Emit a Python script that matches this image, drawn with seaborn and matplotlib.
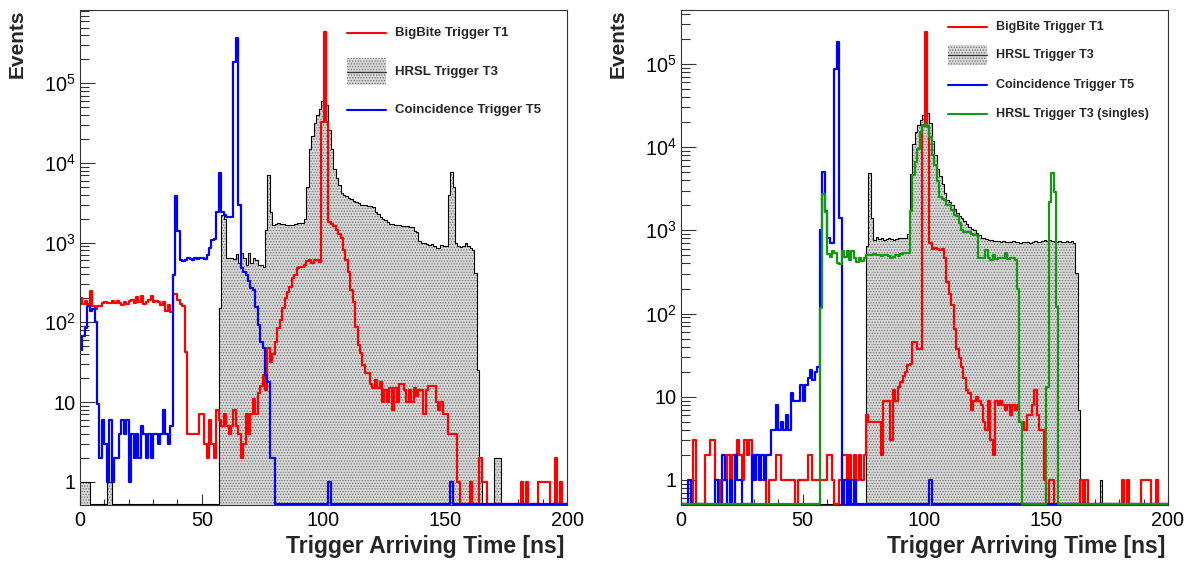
import numpy as np
import pandas as pd
import matplotlib
matplotlib.use("Agg")
import matplotlib.pyplot as plt
import seaborn as sns
from matplotlib.patches import Rectangle
from matplotlib.ticker import MultipleLocator, FixedLocator, FuncFormatter, NullFormatter

# ---------------- data (counts per 1 ns bin, 0..200 ns) ----------------
bin_edges = list(range(0, 201))

t1_left = ([200, 170, 185, 170, 250, 160, 145, 160, 160, 175, 178, 175, 175, 185, 175, 185, 175, 165, 180, 170,
            185, 190, 175, 205, 180, 215, 170, 180, 190, 215, 180, 185, 180, 165, 180, 140, 165, 133]
           + [225, 225, 190, 170, 160, 42, 4, 4, 4, 4, 4, 7, 7, 3, 2, 6, 3, 2, 8]
           + [6, 5, 7, 5, 4, 5, 8, 5, 4, 2, 3, 7, 4, 7, 11, 7, 13, 16, 22, 14, 47, 32, 40, 57, 84, 107, 150,
              200, 240, 280, 360, 390, 475, 500, 500, 520, 580, 600, 550, 600, 600, 575, 33000, 440000, 33000]
           + [1830, 1700, 1600, 1450, 1300, 1150, 800, 600, 430, 255, 180, 88, 52, 41, 29, 23, 23, 17, 15, 19,
              15, 18, 10, 14, 10, 15, 8, 15, 10, 17, 17, 14, 10, 14, 10, 15, 12, 14, 14, 7, 14, 16, 16, 16, 10,
              8, 10, 7, 7, 4, 4, 4, 4, 1]
           + [0, 0, 0, 0, 1, 0, 0, 0, 2, 1, 1] + [0] * 14 + [1, 0, 1] + [0] * 4 + [1, 1, 1, 1, 1]
           + [0, 0] + [2, 0, 1, 0, 0])

t3_left = ([1, 1, 1, 1] + [0] * 7 + [1, 1] + [0] * 44
           + [150, 2200, 2000, 650, 650, 640, 620, 720, 550, 740, 640, 530, 740, 550, 640, 600, 530, 520, 500,
              1450, 7100, 2400, 1650, 1700, 1750, 1700, 1700, 1650, 1650, 1650, 1650, 1700, 1750, 1750, 1750, 2000]
           + [5000, 15000, 22000, 32000, 40000, 48000, 60000, 62000, 53000, 26000, 15000, 8500, 6500, 5300,
              4200, 4000, 3800, 3600, 3500, 3300, 3200, 3100, 3000, 3000, 3000, 2900, 2900, 2800, 2450, 2300,
              2100, 2000, 1900, 1800, 1700, 1700, 1650, 1650, 1650, 1600, 1600, 1600, 1550, 1550, 1400, 1370,
              1050, 1000, 1000, 950, 940, 950, 900, 850, 850, 940, 920, 920, 4000, 7800, 5000, 1000, 920, 880,
              900, 1000, 900, 850, 800, 420, 25, 2]
           + [0] * 5 + [2, 2, 2] + [0] * 27)

t5_left = ([45, 68, 85, 160, 140, 148, 100, 9.5]
           + [2, 6, 3, 1, 6, 1, 2, 2, 4, 6, 4, 6, 1, 4, 2, 4, 2, 5, 4, 2, 4, 2, 4, 4, 3, 4, 8, 4, 3, 5]
           + [390, 3800, 1400, 600, 580, 600, 650, 620, 600, 650, 620, 640, 650, 630, 700, 850, 1070, 1100,
              2400, 7400, 2400, 2200, 2100, 2100, 2100, 186000, 365000, 3000, 475, 430, 390, 330, 270, 255,
              157, 92, 57, 47, 22, 18, 2, 2]
           + [0] * 22 + [1] + [0] * 49 + [1] + [0] * 47)

t1_right = ([0, 0, 0, 0, 0, 3, 0, 0, 0, 0, 2, 2, 3, 3, 1, 1, 0, 1, 1, 2, 1, 2, 2, 3, 2, 1, 3, 2, 3, 1,
             2, 2, 1, 1, 1, 0, 1, 1, 1, 2, 2, 1, 1, 1, 1, 1, 1, 0, 1, 1, 1, 1, 2, 2, 1, 1, 1]
            + [1, 1, 1, 2, 2, 1, 0, 0, 1, 2, 2, 1, 2, 1, 2, 1, 2, 1, 2]
            + [6, 5, 5, 5, 5, 5, 2, 9, 9, 9, 3, 12, 9, 13, 15, 18, 20, 24, 25, 46, 46, 37, 38,
               18000, 240000, 18000]
            + [700, 600, 620, 600, 580, 600, 460, 240, 170, 127, 66, 38, 29, 23, 17, 12, 11, 7, 9, 10, 9, 8,
               5, 4, 9, 3, 2, 9, 8, 9, 8, 7, 8, 6, 8, 7, 8, 5, 5, 4, 6, 6, 8, 12, 6, 4, 4, 1]
            + [0, 1, 1, 0] + [0] * 10 + [1, 0, 1] + [0] * 14 + [1, 0, 1] + [0] * 5 + [1, 1, 1, 1]
            + [0, 0] + [1] + [0] * 4)

t3_right = ([0] * 76
            + [640, 4900, 1420, 770, 830, 780, 800, 760, 790, 800, 780, 760, 790, 800, 810, 820, 820, 900,
               4700, 11000, 15000, 18500, 21000, 24500, 30000, 26000, 19500, 12000, 8000, 5500, 4500, 3600,
               2800, 2300, 2200, 2000, 1800, 1600, 1500, 1400, 1300, 1200, 1100, 1050, 1000, 930, 870, 820,
               800, 780, 770, 760, 750, 740, 750, 730, 740, 720, 730, 720, 740, 730, 720, 710, 720, 730, 720,
               710, 720, 740, 730, 720, 750, 760, 740, 770, 740, 730, 720, 740, 730, 720, 750, 730, 740, 700,
               310, 7, 1]
            + [0] * 7 + [1] + [0] * 27)

t5_right = ([0, 0, 0, 1, 0, 0, 0, 0, 0, 0, 0, 0, 0, 0, 1, 0, 0, 2, 1, 0, 1, 0, 2, 1, 1, 0, 0, 0, 0, 2,
             1, 2, 1, 2, 1, 2, 2, 4, 4, 8, 4, 5, 4, 6, 4, 11, 9, 9, 9, 14, 9, 14, 17, 21, 16, 20, 23]
            + [1000, 5000, 1700, 800, 700, 700, 87000, 183000, 1400]
            + [0, 1, 0, 1, 0, 1] + [0] * 30 + [1] + [0] * 97)

t3s_right = ([0] * 57
             + [116, 2700, 1670, 525, 480, 560, 540, 400, 390, 560, 480, 560, 440, 560, 460, 420, 470, 430,
                460, 500, 510, 500, 520, 510, 500, 490, 500, 510, 490, 470, 480, 500, 490, 520, 530, 530, 540,
                1700, 4600, 6700, 9600, 15000, 18500, 18600, 17700, 13400, 8100, 6100, 3900, 2500, 2400, 2300,
                2000, 2000, 1780, 1550, 1500, 1220, 1000, 960, 960, 960, 900, 890, 890, 460, 460, 470, 580,
                460, 440, 510, 450, 460, 470, 460, 530, 450, 460, 470, 440, 200, 5]
             + [0] * 10 + [13, 2200, 4900, 2900, 120] + [0] * 45)

for arr in (t1_left, t3_left, t5_left, t1_right, t3_right, t5_right, t3s_right):
    assert len(arr) == 200, len(arr)

labels_left = ["BigBite Trigger T1", "HRSL Trigger T3", "Coincidence Trigger T5"]
labels_right = ["BigBite Trigger T1", "HRSL Trigger T3", "Coincidence Trigger T5", "HRSL Trigger T3 (singles)"]
x_label = "Trigger Arriving Time [ns]"
y_label = "Events"
y_major_ticks = [1, 10, 100, 1000, 10000, 100000]
y_minor_ticks = [m * 10 ** e for e in range(-1, 6) for m in range(2, 10)]

# ---------------- style ----------------
sns.set_theme(style="ticks")
plt.rcParams["font.family"] = ["Liberation Sans", "DejaVu Sans"]
plt.rcParams["mathtext.fontset"] = "custom"
plt.rcParams["mathtext.rm"] = "Liberation Sans"
plt.rcParams["mathtext.it"] = "Liberation Sans"
plt.rcParams["hatch.linewidth"] = 0.6

RED, BLUE, GREEN = "#ff0000", "#0000ff", "#119911"
FILL_FC, FILL_EC, HATCH = "#d9d9d9", "#6e6e6e", "......"
LW = 1.6

edges = [float(e) for e in bin_edges]
centers = [(a + b) / 2 for a, b in zip(edges[:-1], edges[1:])]

fig = plt.figure(figsize=(11.89, 5.62), dpi=100)
ax_l = fig.add_axes([80 / 1189, 1 - 505 / 562, 487 / 1189, 495 / 562])
ax_r = fig.add_axes([681 / 1189, 1 - 505 / 562, 487 / 1189, 495 / 562])


def frame(vals, floor):
    v = np.asarray(vals, dtype=float)
    return pd.DataFrame({"t": centers, "n": np.where(v > 0, v, floor)})


def draw_hist(ax, vals, color, lw, floor):
    sns.histplot(data=frame(vals, floor), x="t", weights="n", bins=edges, element="step",
                 fill=False, color=color, linewidth=lw, ax=ax)


def draw_filled(ax, vals, floor):
    df = frame(vals, floor)
    sns.histplot(data=df, x="t", weights="n", bins=edges, element="step", fill=True,
                 facecolor=FILL_FC, edgecolor=FILL_EC, hatch=HATCH, linewidth=0, alpha=1, ax=ax)
    sns.histplot(data=df, x="t", weights="n", bins=edges, element="step", fill=False,
                 color="black", linewidth=0.8, ax=ax)


def fmt(v, pos):
    e = int(round(np.log10(v)))
    if e == 0:
        return "1"
    if e == 1:
        return "10"
    return r"$10^{%d}$" % e


def style_axes(ax, ylim):
    ax.set_yscale("log")
    ax.set_xlim(0, 200)
    ax.set_ylim(*ylim)
    ax.set_xlabel("")
    ax.set_ylabel("")
    ax.xaxis.set_major_locator(MultipleLocator(50))
    ax.xaxis.set_minor_locator(MultipleLocator(10))
    ax.yaxis.set_major_locator(FixedLocator(y_major_ticks))
    ax.yaxis.set_minor_locator(FixedLocator([t for t in y_minor_ticks if ylim[0] < t < ylim[1]]))
    ax.yaxis.set_major_formatter(FuncFormatter(fmt))
    ax.yaxis.set_minor_formatter(NullFormatter())
    ax.tick_params(axis="both", which="both", direction="in", top=False, right=False,
                   colors="#333333", labelcolor="black", labelsize=14.3)
    ax.tick_params(axis="y", which="major", length=11, width=0.8, pad=3)
    ax.tick_params(axis="y", which="minor", length=6.5, width=0.8)
    ax.tick_params(axis="x", which="major", length=8, width=0.8, pad=4)
    ax.tick_params(axis="x", which="minor", length=4.5, width=0.8)
    for s in ax.spines.values():
        s.set_visible(True)
        s.set_color("#333333")
        s.set_linewidth(0.8)
    ax.text(-0.129, 1.0, y_label, rotation=90, ha="center", va="top", fontsize=15,
            fontweight="bold", transform=ax.transAxes)
    ax.text(0.995, -0.097, x_label, ha="right", va="baseline", fontsize=16.5,
            fontweight="bold", transform=ax.transAxes)


def draw_legend(ax, labels, colors, ys, fs, box_h):
    x0, x1, xt = 0.548, 0.628, 0.647
    for lab, col, y in zip(labels, colors, ys):
        if col is None:
            ax.add_patch(Rectangle((x0, y - box_h / 2), x1 - x0, box_h, transform=ax.transAxes,
                                   facecolor=FILL_FC, edgecolor=FILL_EC, hatch=HATCH, linewidth=0))
            ax.plot([x0, x1], [y, y], color="#333333", lw=0.9, transform=ax.transAxes)
        else:
            ax.plot([x0, x1], [y, y], color=col, lw=1.5, transform=ax.transAxes)
        ax.text(xt, y, lab, ha="left", va="center", fontsize=fs, fontweight="bold",
                transform=ax.transAxes)


# left panel
floor_l = 0.52
draw_filled(ax_l, t3_left, floor_l)
draw_hist(ax_l, t1_left, RED, LW, floor_l)
draw_hist(ax_l, t5_left, BLUE, LW, floor_l)
style_axes(ax_l, (0.51, 8.3e5))
draw_legend(ax_l, labels_left, [RED, None, BLUE], [0.954, 0.875, 0.798], 9.5, 0.055)

# right panel
floor_r = 0.51
draw_filled(ax_r, t3_right, floor_r)
draw_hist(ax_r, t1_right, RED, LW, floor_r)
draw_hist(ax_r, t5_right, BLUE, LW, floor_r)
draw_hist(ax_r, t3s_right, GREEN, LW, floor_r)
style_axes(ax_r, (0.50, 4.45e5))
draw_legend(ax_r, labels_right, [RED, None, BLUE, GREEN], [0.966, 0.909, 0.848, 0.789], 9, 0.040)

fig.savefig("out.png", dpi=100)
